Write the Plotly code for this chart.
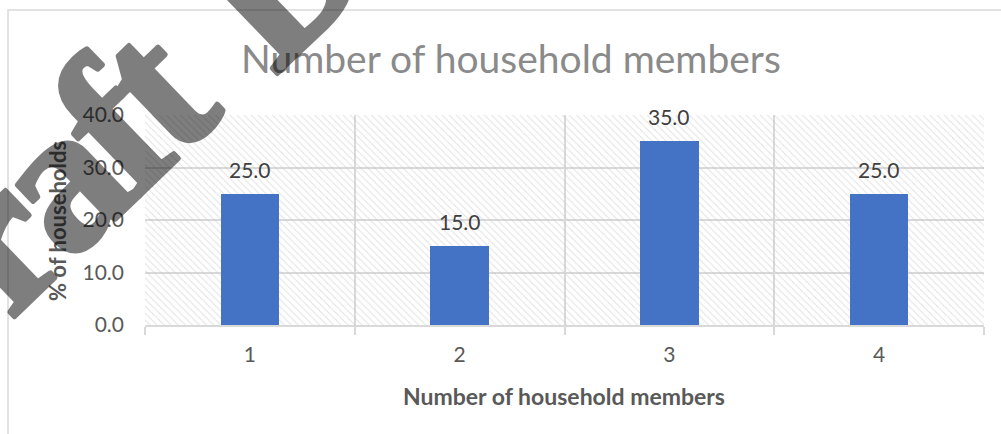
import plotly.graph_objects as go

# ---- data ----
categories = [1, 2, 3, 4]
pct_households = [25.0, 15.0, 35.0, 25.0]
y_ticks = [0, 10, 20, 30, 40]
chart_title = "Number of household members"
x_title = "Number of household members"
y_title = "% of households"
watermark_words = ["Draft", "Document"]

W, H = 1001, 434
L, R, T, B = 145, 17, 115, 109
PW, PH = W - L - R, H - T - B


def px_x(p):
    return (p - L) / PW


def px_y(p):
    return (H - B - p) / PH


y_max = y_ticks[-1]

fig = go.Figure()

# hatched plot-area background
fig.add_trace(go.Bar(
    x=[sum(categories) / len(categories)], y=[y_max], width=[len(categories)],
    marker=dict(color="rgba(0,0,0,0)", line=dict(width=0),
                pattern=dict(shape="\\", fgcolor="#c4c4c4", bgcolor="rgba(0,0,0,0)",
                             size=5, solidity=0.2)),
    hoverinfo="skip", showlegend=False,
))

fig.add_trace(go.Bar(
    x=categories, y=pct_households, width=0.28,
    marker=dict(color="#4472C4", line=dict(width=0)),
    showlegend=False,
))

annotations = []
for c, v in zip(categories, pct_households):
    annotations.append(dict(x=c, y=v, xref="x", yref="y", text=f"{v:.1f}",
                            showarrow=False, yanchor="bottom", yshift=10,
                            font=dict(family="Lato", size=21, color="#404040")))

annotations.append(dict(x=px_x(511), y=px_y(58), xref="paper", yref="paper",
                        text=chart_title, showarrow=False, xanchor="center", yanchor="middle",
                        font=dict(family="Lato", size=39, color="#8a8a8a", weight=400)))
annotations.append(dict(x=px_x(564), y=px_y(396), xref="paper", yref="paper",
                        text=f"<b>{x_title}</b>", showarrow=False, xanchor="center", yanchor="middle",
                        font=dict(family="Lato", size=23, color="#595959")))
annotations.append(dict(x=px_x(57), y=px_y(221), xref="paper", yref="paper",
                        text=f"<b>{y_title}</b>", showarrow=False, textangle=-90,
                        xanchor="center", yanchor="middle",
                        font=dict(family="Lato", size=22, color="#595959")))
# watermark (one annotation per word so each can be placed)
wm_centers = [(20, 214), (524, -262)]
for word, (cx, cy) in zip(watermark_words, wm_centers):
    annotations.append(dict(x=px_x(cx), y=px_y(cy), xref="paper", yref="paper",
                            text=('<span style="letter-spacing:-10px;stroke:#000;'
                                  f'stroke-width:5px;stroke-linejoin:round"><b>{word}</b></span>'),
                            showarrow=False, textangle=-44, opacity=0.5,
                            xanchor="center", yanchor="middle",
                            font=dict(family="Liberation Serif", size=205, color="#000000")))

fig.update_layout(
    width=W, height=H,
    margin=dict(l=L, r=R, t=T, b=B, pad=0),
    paper_bgcolor="white", plot_bgcolor="white",
    barmode="overlay", bargap=0,
    annotations=annotations,
    shapes=[dict(type="rect", xref="paper", yref="paper",
                 x0=px_x(8), x1=px_x(1030), y0=px_y(480), y1=px_y(10),
                 line=dict(color="#d9d9d9", width=1.5), fillcolor="rgba(0,0,0,0)", layer="below")],
)

fig.update_xaxes(
    range=[0.5, 4.5], tickvals=categories, ticktext=[str(c) for c in categories],
    showgrid=False, ticks="", ticklabelstandoff=10,
    tickfont=dict(family="Lato", size=21, color="#595959"),
    showline=True, linecolor="#d9d9d9", linewidth=2,
    minor=dict(tick0=0.5, dtick=1, showgrid=True, gridcolor="#d9d9d9", gridwidth=2,
               ticks="outside", ticklen=8, tickcolor="#d9d9d9", tickwidth=2),
    zeroline=False, fixedrange=True,
)
fig.update_yaxes(
    range=[0, y_max], tickvals=y_ticks, tickformat=".1f",
    showgrid=True, gridcolor="#d9d9d9", gridwidth=2, ticks="", ticklabelstandoff=20,
    tickfont=dict(family="Lato", size=21, color="#595959"),
    zeroline=False, showline=False, fixedrange=True,
)

fig.write_html("out.html", config={"displayModeBar": False},
               post_script="document.body.style.margin='0';")
